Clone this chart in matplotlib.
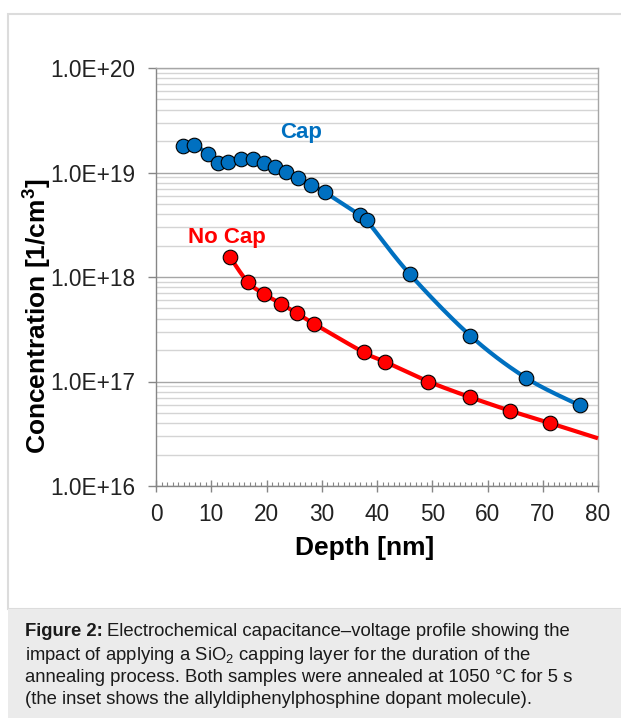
import numpy as np
import matplotlib
matplotlib.use("Agg")
import matplotlib.pyplot as plt
from matplotlib.patches import Rectangle
from matplotlib.ticker import FixedLocator, MultipleLocator, LogLocator, NullFormatter

plt.rcParams['font.family'] = ['Liberation Sans', 'DejaVu Sans']
plt.rcParams['mathtext.fontset'] = 'custom'
plt.rcParams['mathtext.rm'] = 'Liberation Sans'
plt.rcParams['mathtext.it'] = 'Liberation Sans:italic'
plt.rcParams['mathtext.bf'] = 'Liberation Sans:bold'

# ---- data ----
cap_depth = [4.9, 6.9, 9.4, 11.2, 13.1, 15.3, 17.5, 19.5, 21.6, 23.6, 25.7, 28.1, 30.5,
             36.9, 38.1, 45.9, 56.9, 67.0, 76.7]
cap_conc = [1.80e19, 1.82e19, 1.50e19, 1.22e19, 1.27e19, 1.35e19, 1.35e19, 1.24e19, 1.13e19,
            1.01e19, 8.9e18, 7.6e18, 6.5e18, 3.9e18, 3.5e18, 1.07e18, 2.74e17, 1.08e17, 5.9e16]
nocap_depth = [13.4, 16.6, 19.5, 22.6, 25.5, 28.6, 37.6, 41.5, 49.3, 56.8, 64.1, 71.3]
nocap_conc = [1.55e18, 8.95e17, 6.9e17, 5.56e17, 4.5e17, 3.57e17, 1.9e17, 1.54e17, 1.0e17,
              7.1e16, 5.25e16, 4.0e16]
nocap_tail_depth = [80.0]
nocap_tail_conc = [2.86e16]
x_ticks = [0, 10, 20, 30, 40, 50, 60, 70, 80]
y_ticks = [1e16, 1e17, 1e18, 1e19, 1e20]
y_ticklabels = ["1.0E+16", "1.0E+17", "1.0E+18", "1.0E+19", "1.0E+20"]

BLUE = "#0070C0"
RED = "#FF0000"


def catmull_rom(x, y, n=24):
    x = np.asarray(x, float)
    ly = np.log10(np.asarray(y, float))
    P = np.column_stack([x, ly])
    P = np.vstack([P[0], P, P[-1]])
    out = []
    t = np.linspace(0, 1, n, endpoint=False)[:, None]
    for i in range(1, len(P) - 2):
        p0, p1, p2, p3 = P[i - 1], P[i], P[i + 1], P[i + 2]
        seg = 0.5 * ((2 * p1) + (-p0 + p2) * t + (2 * p0 - 5 * p1 + 4 * p2 - p3) * t ** 2
                     + (-p0 + 3 * p1 - 3 * p2 + p3) * t ** 3)
        out.append(seg)
    out.append(P[-2][None, :])
    S = np.vstack(out)
    return S[:, 0], 10 ** S[:, 1]


W, H = 621, 718
fig = plt.figure(figsize=(W / 100, H / 100), dpi=100)
fig.patch.set_facecolor("white")

# outer frame and caption box
fig.add_artist(Rectangle((8 / W, (H - 609) / H), (W - 8) / W + 0.01, 595 / H,
                         transform=fig.transFigure, facecolor="white",
                         edgecolor="#dcdcdc", lw=1.5, zorder=0))
fig.add_artist(Rectangle((8 / W, 0), (W - 8) / W + 0.01, (H - 609) / H,
                         transform=fig.transFigure, facecolor="#ebebeb",
                         edgecolor="none", zorder=0))

ax = fig.add_axes([156 / W, (H - 486) / H, (598 - 156) / W, (486 - 68) / H])
ax.set_yscale("log")
ax.set_xlim(0, 80)
ax.set_ylim(1e16, 1e20)

# grid
ax.yaxis.set_major_locator(FixedLocator(y_ticks))
ax.yaxis.set_minor_locator(LogLocator(base=10, subs=np.arange(2, 10)))
ax.yaxis.set_minor_formatter(NullFormatter())
ax.set_yticklabels(y_ticklabels)
ax.grid(True, which="major", axis="y", color="#a6a6a6", lw=1.0)
ax.grid(True, which="minor", axis="y", color="#d4d4d4", lw=1.0)
ax.set_axisbelow(True)

ax.xaxis.set_major_locator(FixedLocator(x_ticks))
ax.xaxis.set_minor_locator(MultipleLocator(1))

for s in ax.spines.values():
    s.set_color("#a6a6a6")
    s.set_linewidth(1.0)
ax.spines["left"].set_color("#868686")
ax.spines["bottom"].set_color("#868686")

ax.tick_params(axis="y", which="major", direction="out", length=6, width=1, color="#868686",
               pad=9, labelsize=16.3, labelcolor="#222222")
ax.tick_params(axis="y", which="minor", length=0)
ax.tick_params(axis="x", which="major", direction="inout", length=8, width=1, color="#868686",
               pad=8, labelsize=16.3, labelcolor="#222222")
ax.tick_params(axis="x", which="minor", direction="in", length=3, width=0.8, color="#868686")

# curves
cx, cy = catmull_rom(cap_depth, cap_conc)
ax.plot(cx, cy, color=BLUE, lw=3, solid_capstyle="round", zorder=3)
nx, ny = catmull_rom(nocap_depth + nocap_tail_depth, nocap_conc + nocap_tail_conc)
ax.plot(nx, ny, color=RED, lw=3, solid_capstyle="butt", zorder=3, clip_on=False)

ax.plot(cap_depth, cap_conc, "o", ms=10.5, mfc=BLUE, mec="black", mew=0.8, zorder=4, clip_on=False)
ax.plot(nocap_depth, nocap_conc, "o", ms=10.5, mfc=RED, mec="black", mew=0.8, zorder=4, clip_on=False)

ax.text(26.2, 2.39e19, "Cap", color=BLUE, fontsize=16, fontweight="bold", ha="center", va="center")
ax.text(12.9, 2.4e18, "No Cap", color=RED, fontsize=16, fontweight="bold", ha="center", va="center")

fig.text(365 / W, 1 - 548 / H, "Depth [nm]", fontsize=19, fontweight="bold", ha="center",
         va="center", color="black")
fig.text(38 / W, 1 - 316 / H, "Concentration [1/cm$^\\mathbf{3}$]", fontsize=19, fontweight="bold",
         ha="center", va="center", rotation=90, color="black")

# caption
cap_fs = 13.3
cap_col = "#1a1a1a"
x0 = 25 / W
line_y = [632, 655, 677, 699]
fig.canvas.draw()
r = fig.canvas.get_renderer()
t1 = fig.text(x0, 1 - line_y[0] / H, "Figure 2:", fontsize=cap_fs, fontweight="bold",
              va="center", ha="left", color=cap_col)
bb = t1.get_window_extent(renderer=r)
fig.text(bb.x1 / W + 4 / W, 1 - line_y[0] / H,
         "Electrochemical capacitance\u2013voltage profile showing the",
         fontsize=cap_fs, va="center", ha="left", color=cap_col)
fig.text(x0, 1 - line_y[1] / H,
         "impact of applying a SiO$_2$ capping layer for the duration of the",
         fontsize=cap_fs, va="center", ha="left", color=cap_col)
fig.text(x0, 1 - line_y[2] / H,
         "annealing process. Both samples were annealed at 1050 \u00b0C for 5 s",
         fontsize=cap_fs, va="center", ha="left", color=cap_col)
fig.text(x0, 1 - line_y[3] / H,
         "(the inset shows the allyldiphenylphosphine dopant molecule).",
         fontsize=cap_fs, va="center", ha="left", color=cap_col)

fig.savefig("out.png", dpi=100, facecolor="white")
